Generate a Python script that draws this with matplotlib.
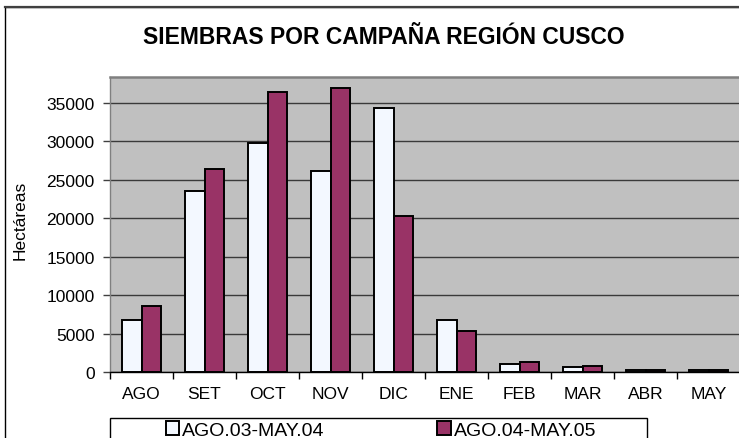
import matplotlib
matplotlib.use("Agg")
import matplotlib.pyplot as plt
from matplotlib.patches import Rectangle
import numpy as np

plt.rcParams['font.family'] = ['Liberation Sans', 'DejaVu Sans']

categories = ["AGO", "SET", "OCT", "NOV", "DIC", "ENE", "FEB", "MAR", "ABR", "MAY"]
serie_0304 = [6850, 23550, 29800, 26150, 34250, 6850, 1080, 650, 300, 250]
serie_0405 = [8650, 26400, 36350, 36850, 20300, 5300, 1380, 860, 300, 280]
series_names = ["AGO.03-MAY.04", "AGO.04-MAY.05"]
title = "SIEMBRAS POR CAMPAÑA REGIÓN CUSCO"
ylabel = "Hectáreas"
yticks = [0, 5000, 10000, 15000, 20000, 25000, 30000, 35000]

W, H = 739, 439
fig = plt.figure(figsize=(W / 100, H / 100), dpi=100)

# outer chart border (cropped at right and bottom)
fig.patches.append(Rectangle((5 / W, -0.1), 1.2, 1 - 8 / H + 0.1, transform=fig.transFigure,
                             fill=False, edgecolor='black', linewidth=1.0))
fig.lines.append(plt.Line2D([5 / W, 1], [1 - 8 / H, 1 - 8 / H], transform=fig.transFigure,
                            color='#404040', linewidth=1.6))

left, right = 110 / W, 740 / W
bottom, top = 1 - 373.3 / H, 1 - 78.3 / H
ax = fig.add_axes([left, bottom, right - left, top - bottom])
ax.set_facecolor('#C0C0C0')

x = np.arange(len(categories))
w = 0.315
b1 = ax.bar(x - w / 2, serie_0304, width=w, color='#F3F8FF', edgecolor='black', linewidth=1.4,
            label=series_names[0], zorder=3)
b2 = ax.bar(x + w / 2, serie_0405, width=w, color='#993366', edgecolor='black', linewidth=1.4,
            label=series_names[1], zorder=3)

ax.set_xlim(-0.5, len(categories) - 0.5)
ax.set_ylim(0, 38300)
ax.set_yticks(yticks)
ax.set_yticklabels([str(v) for v in yticks], fontsize=12.5)
ax.yaxis.grid(True, color='#3a3a3a', linewidth=1.0, zorder=1)
ax.set_axisbelow(True)

ax.set_xticks(x)
ax.set_xticklabels(categories, fontsize=12.5)
ax.set_xticks(np.arange(-0.5, len(categories) + 0.5, 1), minor=True)
ax.tick_params(axis='x', which='major', length=0, pad=10)
ax.tick_params(axis='x', which='minor', length=5, width=1, direction='out')
ax.tick_params(axis='y', length=5, width=1, direction='out', pad=6, color='#404040')

ax.spines['right'].set_visible(False)
ax.spines['top'].set_color('#808080')
ax.spines['top'].set_linewidth(1.8)
ax.spines['left'].set_color('#808080')
ax.spines['left'].set_linewidth(1.0)
ax.spines['bottom'].set_color('black')
ax.spines['bottom'].set_linewidth(1.0)
ax.spines['bottom'].set_zorder(4)

fig.text(384 / W, 1 - 37 / H, title, ha='center', va='center', fontsize=16.5, fontweight='bold')
fig.text(20 / W, 1 - 220 / H, ylabel, ha='center', va='center', rotation=90, fontsize=12.5)

# legend box
fig.patches.append(Rectangle((110 / W, -0.1), (647 - 110) / W, 1 - 419 / H + 0.1,
                             transform=fig.transFigure, fill=False, edgecolor='black', linewidth=1.0))
fig.legend(handles=[b1, b2], labels=series_names, loc='center',
           bbox_to_anchor=(381 / W, 1 - 431 / H), ncol=2, frameon=False, fontsize=14,
           handlelength=0.7, handleheight=0.7, handletextpad=0.15, columnspacing=5.8,
           borderpad=0, borderaxespad=0)

fig.savefig("out.png", dpi=100)
